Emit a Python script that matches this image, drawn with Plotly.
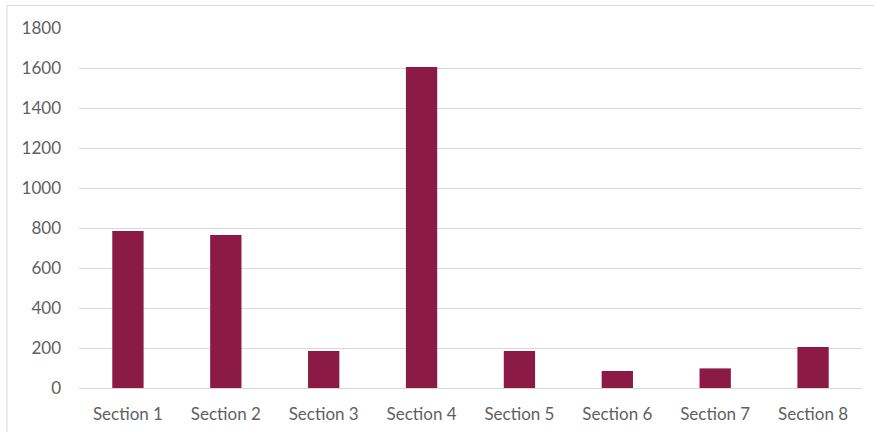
import plotly.graph_objects as go

categories = ["Section 1", "Section 2", "Section 3", "Section 4",
              "Section 5", "Section 6", "Section 7", "Section 8"]
values = [785, 765, 185, 1605, 185, 85, 98, 205]
y_ticks = [0, 200, 400, 600, 800, 1000, 1200, 1400, 1600, 1800]

W, H = 874, 432
L, R, T, B = 79, 12, 28, 44

fig = go.Figure(go.Bar(
    x=categories, y=values,
    marker=dict(color="#8B1A45", line=dict(width=0)),
    hoverinfo="x+y", showlegend=False))

# light frame around the chart area (cut off at right and bottom like the source)
fx = lambda px: (px - L) / (W - L - R)
fy = lambda py: 1 - (py - T) / (H - T - B)
fig.add_shape(type="line", xref="paper", yref="paper",
              x0=fx(7), x1=fx(W + 5), y0=fy(5.5), y1=fy(5.5),
              line=dict(color="#d9d9d9", width=1))
fig.add_shape(type="line", xref="paper", yref="paper",
              x0=fx(7), x1=fx(7), y0=fy(5.5), y1=fy(H + 5),
              line=dict(color="#d9d9d9", width=1))

fig.update_layout(
    width=W, height=H,
    margin=dict(l=L, r=R, t=T, b=B),
    paper_bgcolor="white", plot_bgcolor="white",
    font=dict(family="Lato, sans-serif", size=17, color="#5f5f5f"),
    bargap=0.68,
    xaxis=dict(showgrid=False, showline=True, linecolor="#d9d9d9", linewidth=1,
               ticks="", ticklabelstandoff=11, automargin=False),
    yaxis=dict(range=[0, 1800], tickvals=y_ticks, showgrid=True,
               gridcolor="#d9d9d9", gridwidth=1, zeroline=False,
               showline=False, ticks="", ticklabelstandoff=17,
               automargin=False),
)

# page body margin would shift the figure by 8px
fig.write_html("out.html", config={"displayModeBar": False},
               post_script="document.body.style.margin='0';")
